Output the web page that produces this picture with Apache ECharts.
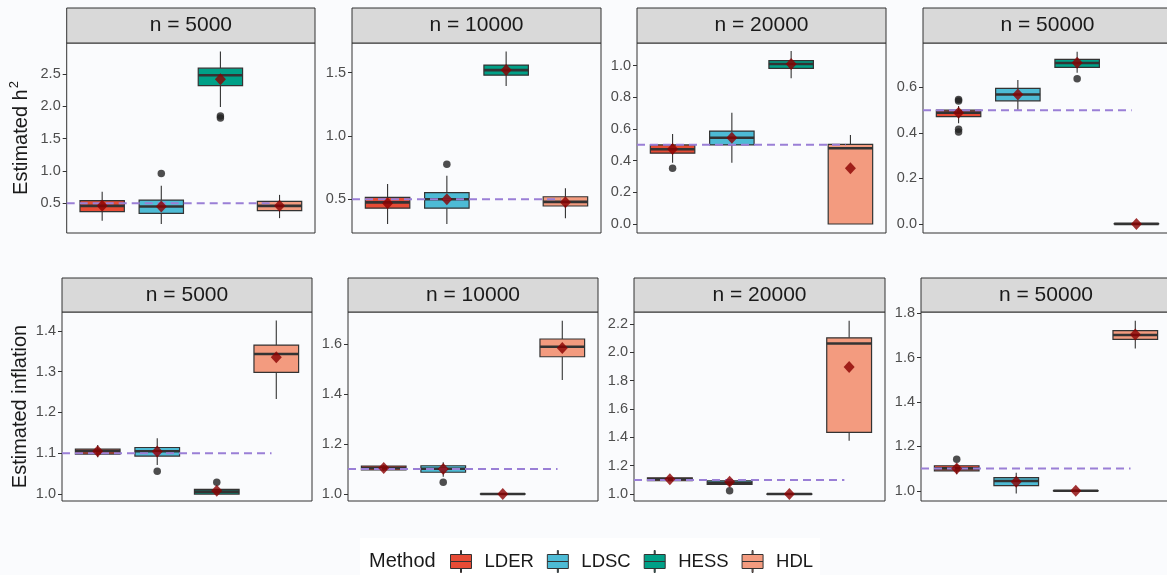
<!DOCTYPE html>
<html>
<head>
<meta charset="utf-8">
<title>Estimated h2 / inflation</title>
<script src="https://cdn.jsdelivr.net/npm/echarts@6/dist/echarts.min.js"></script>
<style>
html,body{margin:0;padding:0;background:#fafbfd;}
#main{width:1167px;height:575px;}
</style>
</head>
<body>
<div id="main"></div>
<script>
var methods = ['LDER', 'LDSC', 'HESS', 'HDL'];
var colors = ['#E64B35', '#4DBBD5', '#00A087', '#F39B7F'];
var sampleSizes = ['n = 5000', 'n = 10000', 'n = 20000', 'n = 50000'];

//箱线数据 [下须, Q1, 中位数, Q3, 上须]，每行一个n，每个方法一个箱
var h2Box = [
    [[0.23, 0.37, 0.46, 0.54, 0.68], [0.18, 0.345, 0.45, 0.55, 0.77], [1.99, 2.32, 2.48, 2.59, 2.85], [0.27, 0.385, 0.46, 0.53, 0.63]],
    [[0.305, 0.43, 0.476, 0.516, 0.62], [0.305, 0.43, 0.50, 0.552, 0.686], [1.394, 1.48, 1.52, 1.56, 1.666], [0.35, 0.447, 0.48, 0.52, 0.587]],
    [[0.387, 0.447, 0.472, 0.499, 0.569], [0.387, 0.499, 0.545, 0.587, 0.703], [0.92, 0.983, 1.01, 1.032, 1.093], [0, 0, 0.478, 0.503, 0.562]],
    [[0.442, 0.471, 0.489, 0.50, 0.518], [0.497, 0.541, 0.569, 0.596, 0.632], [0.664, 0.688, 0.707, 0.723, 0.756], [0, 0, 0, 0.001, 0.002]]
];
var h2Mean = [
    [0.46, 0.45, 2.42, 0.46],
    [0.468, 0.50, 1.52, 0.476],
    [0.474, 0.545, 1.01, 0.352],
    [0.489, 0.569, 0.708, 0.0]
];
//离群点 [方法序号, 值]
var h2Out = [
    [[1, 0.96], [2, 1.85], [2, 1.82]],
    [[1, 0.776]],
    [[0, 0.352]],
    [[0, 0.547], [0, 0.54], [0, 0.416], [0, 0.404], [2, 0.638]]
];

var inflBox = [
    [[1.09, 1.098, 1.105, 1.110, 1.12], [1.071, 1.093, 1.105, 1.114, 1.137], [1.0, 1.0, 1.006, 1.0115, 1.012], [1.233, 1.298, 1.343, 1.365, 1.425]],
    [[1.093, 1.096, 1.104, 1.112, 1.115], [1.069, 1.087, 1.101, 1.113, 1.127], [0.998, 0.999, 1.0, 1.001, 1.002], [1.456, 1.549, 1.589, 1.62, 1.693]],
    [[1.09, 1.094, 1.105, 1.115, 1.118], [1.055, 1.068, 1.08, 1.094, 1.097], [0.997, 0.998, 1.0, 1.002, 1.003], [1.376, 1.435, 2.063, 2.103, 2.223]],
    [[1.075, 1.09, 1.101, 1.113, 1.12], [0.988, 1.023, 1.044, 1.059, 1.081], [0.998, 0.999, 1.0, 1.001, 1.002], [1.642, 1.683, 1.702, 1.722, 1.767]]
];
var inflMean = [
    [1.105, 1.104, 1.008, 1.335],
    [1.104, 1.10, 1.0, 1.584],
    [1.104, 1.087, 1.0, 1.896],
    [1.10, 1.041, 1.0, 1.705]
];
var inflOut = [
    [[1, 1.056], [2, 1.029]],
    [[1, 1.047]],
    [[1, 1.023]],
    [[0, 1.142]]
];

//真值虚线
var trueH2 = 0.5;
var trueInfl = 1.1;
var refSpan = [0.4, 3.92];

//y轴刻度和范围
var h2Ticks = [[0.5, 1.0, 1.5, 2.0, 2.5], [0.5, 1.0, 1.5], [0, 0.2, 0.4, 0.6, 0.8, 1.0], [0, 0.2, 0.4, 0.6]];
var inflTicks = [[1.0, 1.1, 1.2, 1.3, 1.4], [1.0, 1.2, 1.4, 1.6], [1.0, 1.2, 1.4, 1.6, 1.8, 2.0, 2.2], [1.0, 1.2, 1.4, 1.6, 1.8]];
var h2Range = [[0.04, 2.98], [0.234, 1.734], [-0.057, 1.143], [-0.04, 0.795]];
var inflRange = [[0.983, 1.446], [0.972, 1.728], [0.951, 2.285], [0.954, 1.806]];

//面板位置
var rowTop = [43, 312];
var rowHeight = [190, 189];
var stripTop = [8, 278];
var stripHeight = [35, 34];
var colLeft = [[66.7, 352, 637, 923], [62, 348, 634, 921]];
var colWidth = [[248.3, 249, 249, 249], [250, 250, 251, 250]];

var FONT = 'Liberation Sans, Arial, sans-serif';

function renderBox(params, api) {
    var x = api.value(0);
    var lo = api.coord([x, api.value(1)]);
    var q1 = api.coord([x, api.value(2)]);
    var md = api.coord([x, api.value(3)]);
    var q3 = api.coord([x, api.value(4)]);
    var hi = api.coord([x, api.value(5)]);
    var w = api.size([0.75, 0])[0];
    var cx = lo[0];
    return {
        type: 'group',
        children: [
            {type: 'line', shape: {x1: cx, y1: hi[1], x2: cx, y2: q3[1]}, style: {stroke: '#333', lineWidth: 1.1}},
            {type: 'line', shape: {x1: cx, y1: q1[1], x2: cx, y2: lo[1]}, style: {stroke: '#333', lineWidth: 1.1}},
            {type: 'rect', shape: {x: cx - w / 2, y: q3[1], width: w, height: q1[1] - q3[1]},
                style: {fill: api.visual('color'), stroke: '#333', lineWidth: 1.2}},
            {type: 'line', shape: {x1: cx - w / 2, y1: md[1], x2: cx + w / 2, y2: md[1]}, style: {stroke: '#333', lineWidth: 2.6}}
        ]
    };
}

var grids = [], xAxes = [], yAxes = [], series = [], graphics = [];

var rows = [
    {box: h2Box, mean: h2Mean, out: h2Out, ticks: h2Ticks, range: h2Range, ref: trueH2, title: 'Estimated h{sup|2}'},
    {box: inflBox, mean: inflMean, out: inflOut, ticks: inflTicks, range: inflRange, ref: trueInfl, title: 'Estimated inflation'}
];

for (var r = 0; r < 2; r++) {
    var row = rows[r];
    for (var c = 0; c < 4; c++) {
        var gi = r * 4 + c;
        grids.push({
            left: colLeft[r][c], top: rowTop[r], width: colWidth[r][c], height: rowHeight[r],
            show: true, borderColor: '#333', borderWidth: 1, backgroundColor: 'transparent',
            containLabel: false, outerBoundsMode: 'none'
        });
        xAxes.push({type: 'value', gridIndex: gi, min: 0.4, max: 4.6, show: false});
        var ya = {
            type: 'value', gridIndex: gi,
            min: row.range[c][0], max: row.range[c][1],
            axisLine: {show: false},
            splitLine: {show: false},
            axisTick: {show: true, length: 4, customValues: row.ticks[c], lineStyle: {color: '#333', width: 1}},
            axisLabel: {
                customValues: row.ticks[c], margin: 6, color: '#4d4d4d', fontSize: 14.5, fontFamily: FONT,
                formatter: function (v) { return v.toFixed(1); }
            }
        };
        if (c == 0) {
            ya.name = row.title;
            ya.nameLocation = 'middle';
            ya.nameRotate = 90;
            ya.nameGap = 32;
            ya.nameTextStyle = {
                fontSize: 20, color: '#1a1a1a', fontFamily: FONT,
                rich: {sup: {fontSize: 13, color: '#1a1a1a', fontFamily: FONT, padding: [0, 0, 14, 1]}}
            };
        }
        yAxes.push(ya);

        //箱体
        for (var m = 0; m < 4; m++) {
            series.push({
                name: methods[m], type: 'custom', xAxisIndex: gi, yAxisIndex: gi,
                itemStyle: {color: colors[m]},
                renderItem: renderBox, z: 2,
                data: [[m + 1].concat(row.box[c][m])]
            });
        }
        //离群点
        series.push({
            type: 'scatter', xAxisIndex: gi, yAxisIndex: gi, symbol: 'circle', symbolSize: 7.5, z: 3,
            itemStyle: {color: '#222222'}, silent: true,
            data: row.out[c].map(function (o) { return [o[0] + 1, o[1]]; })
        });
        //真值虚线
        series.push({
            type: 'line', xAxisIndex: gi, yAxisIndex: gi, symbol: 'none', z: 4, silent: true,
            lineStyle: {color: '#9a7fd6', width: 2, type: [8, 5]},
            data: [[refSpan[0], row.ref], [refSpan[1], row.ref]]
        });
        //均值菱形
        series.push({
            type: 'scatter', xAxisIndex: gi, yAxisIndex: gi, symbol: 'diamond', symbolSize: [11, 12], z: 5,
            itemStyle: {color: '#8b0000'}, silent: true,
            data: row.mean[c].map(function (v, i) { return [i + 1, v]; })
        });

        //分面标题
        graphics.push({
            type: 'rect', z: 10,
            shape: {x: colLeft[r][c], y: stripTop[r], width: colWidth[r][c], height: stripHeight[r]},
            style: {fill: '#d9d9d9', stroke: '#333', lineWidth: 1}
        });
        graphics.push({
            type: 'text', z: 11,
            x: colLeft[r][c] + colWidth[r][c] / 2, y: stripTop[r] + stripHeight[r] / 2,
            style: {text: sampleSizes[c], fill: '#1a1a1a', font: '21px ' + FONT, align: 'center', verticalAlign: 'middle', textAlign: 'center', textVerticalAlign: 'middle'}
        });
    }
}

//图例
graphics.push({
    type: 'rect', z: 0,
    shape: {x: 360, y: 538, width: 460, height: 40},
    style: {fill: '#ffffff'}
});
graphics.push({
    type: 'text', z: 11, x: 369, y: 561,
    style: {text: 'Method', fill: '#1a1a1a', font: '20px ' + FONT, align: 'left', verticalAlign: 'middle', textAlign: 'left', textVerticalAlign: 'middle'}
});

var myChart = echarts.init(document.getElementById('main'));
myChart.setOption({
    backgroundColor: '#fafbfd',
    animation: false,
    grid: grids,
    xAxis: xAxes,
    yAxis: yAxes,
    legend: {
        data: methods,
        left: 450, top: 550, padding: 0,
        itemWidth: 21, itemHeight: 22, itemGap: 13,
        icon: 'path://M10,0L11,0L11,4L10,4Z M0,4L21,4L21,11L0,11Z M0,11L21,11L21,18L0,18Z M10,18L11,18L11,22L10,22Z',
        itemStyle: {borderColor: '#333', borderWidth: 1},
        textStyle: {fontSize: 18.5, color: '#1a1a1a', fontFamily: FONT, padding: [0, 0, 0, 8]},
        selectedMode: false
    },
    graphic: graphics,
    series: series
});
</script>
</body>
</html>
